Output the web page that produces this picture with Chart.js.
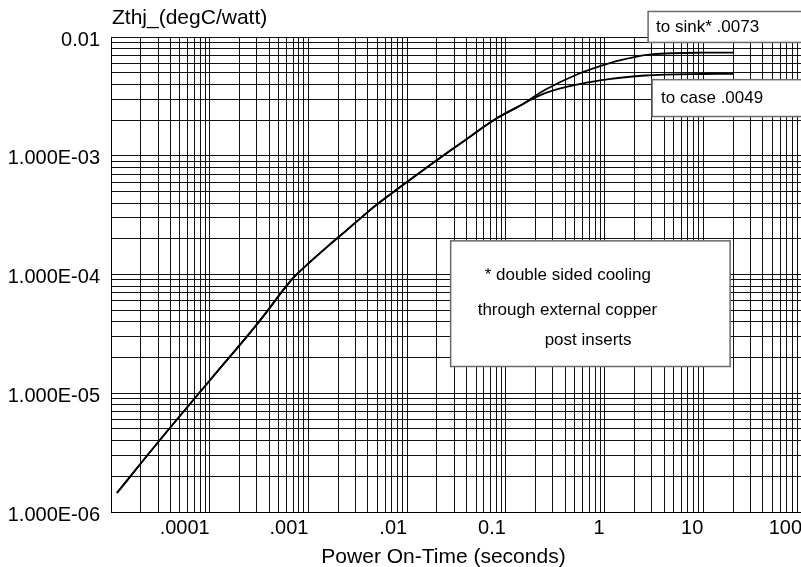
<!DOCTYPE html>
<html>
<head>
<meta charset="utf-8">
<title>Zthj vs Power On-Time</title>
<script src="https://cdn.jsdelivr.net/npm/chart.js@4/dist/chart.umd.min.js"></script>
<style>
    html, body { margin: 0; padding: 0; background: #fff; overflow: hidden; }
    #wrap { position: relative; width: 806px; height: 567px; }
</style>
</head>
<body>
<div id="wrap"><canvas id="zthChart"></canvas></div>
<script>
// Transient thermal impedance

// shared part of both curves (seconds, degC/W)
const commonTime = [1.15e-5, 3.1e-5, 1.0e-4, 3.05e-4, 5.7e-4, 7.46e-4, 1.62e-3, 2.4e-3,
    3.5e-3, 5.2e-3, 1.9e-2, 3.9e-2, 7.8e-2, 0.145];
const commonZth = [1.45e-6, 4.0e-6, 1.28e-5, 3.86e-5, 7.6e-5, 9.86e-5, 1.77e-4, 2.33e-4,
    3.06e-4, 4.02e-4, 8.9e-4, 1.36e-3, 2.03e-3, 2.69e-3];

// "to sink" branch
const sinkTime = [0.25, 0.54, 1.18, 2.0, 3.0, 4.8, 10, 20];
const sinkZth = [3.59e-3, 4.88e-3, 6.1e-3, 6.78e-3, 7.13e-3, 7.3e-3, 7.38e-3, 7.4e-3];

// "to case" branch
const caseTime = [0.25, 0.54, 1.18, 2.56, 4.07, 10, 20];
const caseZth = [3.37e-3, 4.0e-3, 4.45e-3, 4.74e-3, 4.83e-3, 4.88e-3, 4.9e-3];

// axis labels
const xTickValues = [1e-4, 1e-3, 1e-2, 0.1, 1, 10, 100];
const xTickLabels = ['.0001', '.001', '.01', '0.1', '1', '10', '100'];
const yTickValues = [1e-6, 1e-5, 1e-4, 1e-3, 1e-2];
const yTickLabels = ['1.000E-06', '1.000E-05', '1.000E-04', '1.000E-03', '0.01'];

const xTitle = 'Power On-Time (seconds)';
const yTitle = 'Zthj_(degC/watt)';
const sinkLabel = 'to sink* .0073';
const caseLabel = 'to case .0049';
const noteLines = ['* double sided cooling', 'through external copper', 'post inserts'];

const FONT = '"Liberation Sans", Arial, Helvetica, sans-serif';

function zip(xs, ys) {
    return xs.map((x, i) => ({ x: x, y: ys[i] }));
}

// log paper: 1..9 in every decade
function decadeTicks(fromExp, toExp) {
    const ticks = [];
    for (let e = fromExp; e < toExp; e++) {
        for (let m = 1; m <= 9; m++) {
            ticks.push({ value: m * Math.pow(10, e) });
        }
    }
    ticks.push({ value: Math.pow(10, toExp) });
    return ticks;
}

function labelFor(value, values, labels) {
    const i = values.findIndex(v => Math.abs(value / v - 1) < 1e-6);
    return i >= 0 ? labels[i] : '';
}

// boxes with text, anchored in data units
const boxes = [
    { x0: 2.76, x1: 300, y0: 0.0164, y1: 0.0090, lines: [[sinkLabel, 8, 16]] },
    { x0: 3.03, x1: 300, y0: 4.37e-3, y1: 2.14e-3, lines: [[caseLabel, 9, 18.5]] },
    { x0: 0.0276, x1: 18.7, y0: 1.92e-4, y1: 1.68e-5,
      lines: [[noteLines[0], 34, 34.5], [noteLines[1], 27, 69.5], [noteLines[2], 94, 99.5]] }
];

const notesPlugin = {
    id: 'notes',
    afterDraw(chart) {
        const { ctx, chartArea, scales } = chart;
        const xs = scales.x, ys = scales.y;
        ctx.save();
        ctx.fillStyle = '#000';
        ctx.textBaseline = 'middle';

        ctx.font = '21px ' + FONT;
        ctx.textAlign = 'left';
        ctx.fillText(yTitle, chartArea.left + 1, chartArea.top - 19);
        ctx.textAlign = 'center';
        ctx.fillText(xTitle, (chartArea.left + chartArea.right) / 2 - 13, chart.height - 10);

        ctx.font = '17px ' + FONT;
        ctx.textAlign = 'left';
        boxes.forEach(b => {
            const l = xs.getPixelForValue(b.x0);
            const r = xs.getPixelForValue(b.x1);
            const t = ys.getPixelForValue(b.y0);
            const btm = ys.getPixelForValue(b.y1);
            ctx.fillStyle = '#fff';
            ctx.fillRect(l, t, r - l, btm - t);
            ctx.strokeStyle = '#6a6a6a';
            ctx.lineWidth = 1.5;
            ctx.strokeRect(l, t, r - l, btm - t);
            ctx.fillStyle = '#000';
            b.lines.forEach(([text, dx, dy]) => ctx.fillText(text, l + dx, t + dy));
        });
        ctx.restore();
    }
};

const lineStyle = {
    borderColor: '#000',
    borderWidth: 1.8,
    pointRadius: 0,
    fill: false,
    tension: 0.4
};

new Chart(document.getElementById('zthChart'), {
    type: 'line',
    data: {
        datasets: [
            Object.assign({ label: 'to sink', data: zip(commonTime.concat(sinkTime), commonZth.concat(sinkZth)) }, lineStyle),
            Object.assign({ label: 'to case', data: zip(commonTime.concat(caseTime), commonZth.concat(caseZth)) }, lineStyle)
        ]
    },
    options: {
        responsive: true,
        maintainAspectRatio: false,
        animation: false,
        devicePixelRatio: 1,
        layout: { padding: { top: 37, right: 2, left: 0, bottom: 0 } },
        plugins: {
            legend: { display: false },
            tooltip: { enabled: false }
        },
        scales: {
            x: {
                type: 'logarithmic',
                min: 1e-5,
                max: 100,
                afterBuildTicks: scale => { scale.ticks = decadeTicks(-5, 2); },
                afterFit: scale => { scale.height = 55; },
                grid: { color: '#111', lineWidth: 1, drawTicks: false },
                border: { color: '#000', width: 1 },
                ticks: {
                    autoSkip: false,
                    maxRotation: 0,
                    minRotation: 0,
                    align: 'end',
                    padding: 4,
                    color: '#000',
                    font: { family: FONT, size: 20 },
                    callback: value => labelFor(value, xTickValues, xTickLabels)
                }
            },
            y: {
                type: 'logarithmic',
                min: 1e-6,
                max: 1e-2,
                afterBuildTicks: scale => { scale.ticks = decadeTicks(-6, -2); },
                afterFit: scale => { scale.width = 111; },
                grid: { color: '#111', lineWidth: 1, drawTicks: false },
                border: { color: '#000', width: 1 },
                ticks: {
                    autoSkip: false,
                    padding: 11,
                    labelOffset: 3,
                    color: '#000',
                    font: { family: FONT, size: 20 },
                    callback: value => labelFor(value, yTickValues, yTickLabels)
                }
            }
        }
    },
    plugins: [notesPlugin]
});
</script>
</body>
</html>
